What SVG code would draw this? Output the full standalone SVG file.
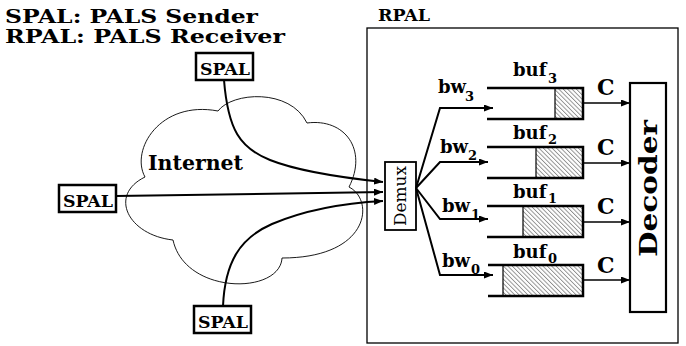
<svg xmlns="http://www.w3.org/2000/svg" width="686" height="346" viewBox="0 0 686 346">
<defs>
<style>
text{font-family:"DejaVu Serif","Liberation Serif",serif;font-weight:bold;fill:#000}
.box{fill:#fff;stroke:#000;stroke-width:2.5}
.conn{fill:none;stroke:#000;stroke-width:2}
.thin{fill:none;stroke:#000;stroke-width:1.5}
.bufline{fill:none;stroke:#000;stroke-width:2.5}
.hatch{fill:url(#hatch);stroke:#000;stroke-width:1.2}
.t18{font-size:18px}
.sub{font-size:13px}
.c{font-size:22px}
</style>
<pattern id="hatch" patternUnits="userSpaceOnUse" width="3.1" height="10" patternTransform="rotate(-45)">
<line x1="0.5" y1="0" x2="0.5" y2="10" stroke="#555" stroke-width="0.7"/>
</pattern>
<marker id="arr" markerUnits="userSpaceOnUse" markerWidth="9" markerHeight="7" refX="9" refY="3.5" orient="auto">
<path d="M0,0 L9,3.5 L0,7 z" fill="#000"/>
</marker>
</defs>
<rect width="686" height="346" fill="#fff"/>

<g id="legend">
<text x="5" y="23" font-size="19" textLength="253" lengthAdjust="spacingAndGlyphs">SPAL: PALS Sender</text>
<text x="5" y="43" font-size="19" textLength="280" lengthAdjust="spacingAndGlyphs">RPAL: PALS Receiver</text>
</g>

<g id="internet">
<path d="M218,111 C232,92 290,88 307,123 C345,118 368,150 349,187 C375,200 370,258 282,258 C280,295 185,295 173,240 C128,235 108,195 145,177 C130,150 160,100 218,111 Z" fill="none" stroke="#000" stroke-width="0.9"/>
<text x="148" y="170" font-size="21" textLength="95" lengthAdjust="spacingAndGlyphs">Internet</text>
</g>

<g id="rpal">
<rect x="367" y="28" width="311" height="315" fill="none" stroke="#000" stroke-width="1.3"/>
<text x="378" y="21" font-size="16" textLength="52" lengthAdjust="spacingAndGlyphs">RPAL</text>
</g>

<g id="spal-top">
<rect class="box" x="196" y="53" width="57" height="27"/>
<text x="200" y="75" font-size="16" textLength="50" lengthAdjust="spacingAndGlyphs">SPAL</text>
</g>
<g id="spal-left">
<rect class="box" x="59" y="185" width="57" height="27"/>
<text x="63" y="207" font-size="16" textLength="50" lengthAdjust="spacingAndGlyphs">SPAL</text>
</g>
<g id="spal-bottom">
<rect class="box" x="194" y="306" width="57" height="27"/>
<text x="198" y="328" font-size="16" textLength="50" lengthAdjust="spacingAndGlyphs">SPAL</text>
</g>

<g id="demux">
<rect x="385" y="162" width="31" height="68" fill="#fff" stroke="#000" stroke-width="1.8"/>
<text transform="translate(406,226) rotate(-90)" x="0" y="0" font-size="16" font-weight="normal" style="font-weight:normal" textLength="60" lengthAdjust="spacingAndGlyphs">Demux</text>
</g>

<g id="buf3">
<rect class="hatch" x="555" y="88" width="28" height="31"/>
<path class="bufline" d="M487,88 H583 V119 H487"/>
<text class="t18" x="513" y="76">buf</text><text class="sub" x="548" y="83">3</text>
</g>
<g id="buf2">
<rect class="hatch" x="536" y="147" width="47" height="31"/>
<path class="bufline" d="M487,147 H583 V178 H487"/>
<text class="t18" x="513" y="139">buf</text><text class="sub" x="548" y="144">2</text>
</g>
<g id="buf1">
<rect class="hatch" x="523" y="206" width="60" height="31"/>
<path class="bufline" d="M487,206 H583 V237 H487"/>
<text class="t18" x="513" y="198">buf</text><text class="sub" x="548" y="203">1</text>
</g>
<g id="buf0">
<rect class="hatch" x="503" y="265" width="80" height="31"/>
<path class="bufline" d="M488,265 H583 V296 H488"/>
<text class="t18" x="513" y="258">buf</text><text class="sub" x="548" y="263">0</text>
</g>

<g id="decoder">
<rect x="630" y="83" width="36" height="229" fill="#fff" stroke="#000" stroke-width="2.2"/>
<text transform="translate(657,257) rotate(-90)" x="0" y="0" font-size="25" textLength="137" lengthAdjust="spacingAndGlyphs">Decoder</text>
</g>

<g id="connectors">
<path class="conn" d="M224,80 C228,130 240,148 270,160 C300,172 345,178 383,182" marker-end="url(#arr)"/>
<path class="conn" d="M116,196 L383,192" marker-end="url(#arr)"/>
<path class="conn" d="M223,306 C225,262 240,238 272,224 C305,210 345,203 383,201" marker-end="url(#arr)"/>
<path class="conn" d="M416,188 L440,108 L493,108" marker-end="url(#arr)"/>
<path class="conn" d="M416,188 L440,162 L488,162" marker-end="url(#arr)"/>
<path class="conn" d="M416,188 L440,219 L488,219" marker-end="url(#arr)"/>
<path class="conn" d="M416,188 L440,275 L493,275" marker-end="url(#arr)"/>
<path class="thin" d="M583,103 H630" marker-end="url(#arr)"/>
<path class="thin" d="M583,163 H630" marker-end="url(#arr)"/>
<path class="thin" d="M583,222 H630" marker-end="url(#arr)"/>
<path class="thin" d="M583,280 H630" marker-end="url(#arr)"/>
</g>

<g id="labels">
<text class="t18" x="438" y="93">bw</text><text class="sub" x="465" y="101">3</text>
<text class="t18" x="440" y="153">bw</text><text class="sub" x="468" y="160">2</text>
<text class="t18" x="442" y="212">bw</text><text class="sub" x="471" y="219">1</text>
<text class="t18" x="442" y="267">bw</text><text class="sub" x="471" y="274">0</text>
<text class="c" x="597" y="95">C</text>
<text class="c" x="597" y="155">C</text>
<text class="c" x="597" y="214">C</text>
<text class="c" x="597" y="273">C</text>
</g>
</svg>
